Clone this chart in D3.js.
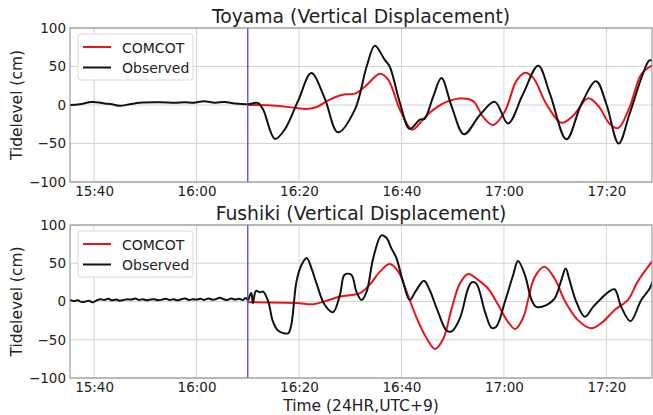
<!DOCTYPE html>
<html>
<head>
<meta charset="utf-8">
<script src="https://cdn.jsdelivr.net/npm/d3@7"></script>
<style>
  body { margin: 0; background: #fff; }
  svg { display: block; font-family: "DejaVu Sans", sans-serif; }
</style>
</head>
<body>
<svg id="chart" width="653" height="415"></svg>
<script>
// all times are minutes after 15:00 (JST)
const xDomain = [35.3, 148.9];
const arrivalTime = 70; // 16:10, blue marker
const yTicks = [-100, -50, 0, 50, 100];
const seriesNames = ['COMCOT', 'Observed'];

// --- Toyama ---
const toyamaObsTime = [35.3, 37.2, 39.6, 42.1, 43.5, 45.0, 47.0, 48.9, 52.8, 55.8, 57.7, 59.5, 61.4, 63.6, 65.5, 67.5, 70.0,
  72.0, 73.0, 75.3, 77.2, 79.8, 82.4, 85.0, 87.6, 90.9, 93.2, 94.8, 96.7, 97.7, 99.7, 101.6, 103.6, 104.5, 106.2, 107.8,
  109.8, 112.2, 115.3, 118.2, 120.8, 123.7, 126.7, 129.0, 132.2, 135.1, 138.0, 140.0, 142.4, 144.5, 147.1, 148.4, 149.2];
const toyamaObs = [0, 1, 4, 2, 1, -1, 1, 3, 3.5, 3, 3.5, 3, 5, 3, 4, 2, 1,
  2.6, -6, -44, -32, 5, 41.5, 9, -35.5, -6, 50, 77, 59, 50, 2.6, -31, -19, -18, 11, 35,
  -2, -38, -13, 4.3, -24, 14, 51, 14, -44.6, 1, 31, 1, -50, -12, 40, 58, 57];

const toyamaSimTime = [70.0, 75.6, 79.5, 81.8, 83.4, 86.0, 88.3, 91.2, 93.2, 95.8, 97.4, 99.7, 102.1, 104.2, 105.5, 107.1,
  108.8, 112.0, 114.0, 116.0, 117.9, 120.2, 122.4, 124.1, 125.7, 128.3, 131.2, 133.5, 136.4, 138.4, 140.7, 142.3, 144.5,
  146.8, 148.8, 149.2];
const toyamaSim = [0, -1, -4, -5, -2.6, 7, 13, 15.5, 26, 40.6, 33, -6, -32, -19, -10, -2,
  4, 8.6, 5, -16, -26, -8, 31, 42, 35.5, 1, -23, -14, 8.6, -1, -25, -30, -3.5,
  40, 51, 52];

// --- Fushiki ---
const fushikiObsTime = [35.3, 36, 36.8, 37.5, 38.3, 39, 39.8, 40.5, 41.3, 42, 42.8, 43.5, 44.3, 45, 45.8, 46.5, 47.3, 48,
  48.8, 49.5, 50.3, 51, 51.8, 52.5, 53.3, 54, 54.8, 55.5, 56.3, 57, 57.8, 58.5, 59.3, 60, 60.8, 61.5, 62.3, 63, 63.8,
  64.5, 65.3, 66, 66.8, 67.5, 68.3, 69, 69.6, 70.07,
  70.4, 70.7, 71.0, 71.6, 72.35, 73.0, 74.0, 74.9, 75.9, 76.8, 77.9, 78.5, 79.5, 80.5, 81.5, 82.4, 83.4, 85.0, 86.65,
  88.0, 88.9, 90.2, 91.2, 92.2, 93.2, 94.5, 96.1, 97.1, 98.0, 99.0, 100.3, 101.6, 102.9, 104.4, 105.5, 107.1, 108.8,
  109.8, 111.4, 113.0, 113.7, 114.6, 116.3, 117.6, 118.5, 120.2, 121.8, 122.75, 124.1, 125.4, 126.3, 128.3, 129.9,
  131.2, 132.05, 132.8, 134.1, 135.8, 137.4, 138.7, 140.3, 141.6, 142.9, 144.7, 146.8, 148.45, 149.0];
const fushikiObs = [2, 0.5, 1.5, -0.5, 0, 1, -1, 1.5, 3, 2, 3.5, 1.5, 2.5, 1, 2, 3, 2.5, 4,
  2, 3, 1.5, 2.5, 3, 1.5, 2.5, 3.5, 2, 3, 1.5, 3, 4, 2, 3, 2.5, 3.5, 2, 4, 2.5, 3,
  5, 3, 2, 4, 2.5, 3.5, 2, 4.5, 2,
  8, 11, -2, 14, 12, 13, 0, -26, -38, -41, -41.5, -30.5, 26, 48, 57, 44, 24, -4.3, -14,
  9, 35, 35, 13, 2, 13, 57, 86.5, 83, 70, 57, 26, 2, 15, 27, 15, -13, -38,
  -39, -22, 17, 25, 23.6, -13.5, -34.5, -33, 0, 34.6, 53, 34.6, 2, -7, -4.7, 4,
  28, 43, 28, 0, -20, -7, 2, 12, 16, -7, -25.7, 2, 17, 26];

const fushikiSimTime = [70.07, 79.5, 82.8, 85.4, 88.0, 91.9, 93.8, 95.8, 97.7, 99.4, 101.0, 103.0, 104.9, 106.55, 108.2,
  109.8, 111.4, 113.0, 115.0, 116.9, 118.9, 120.8, 122.2, 123.7, 126.0, 127.9, 129.9, 131.8, 134.4, 137.0, 139.3,
  141.6, 144.2, 146.1, 149.0];
const fushikiSim = [-1, -2, -3.5, 1, 6.5, 11, 22, 39, 49, 39, 13, -22, -48, -62, -48,
  -9, 23.6, 36, 28, 17, -4.7, -26.6, -36, -22, 32, 45.5, 30, 2, -24, -35, -26.6,
  -11, 2, 26, 53];

const baseDate = new Date(2024, 0, 1, 15, 0, 0);
const toDate = m => new Date(baseDate.getTime() + m * 60000);
const zip = (ts, vs) => ts.map((t, i) => ({ t: toDate(t), v: vs[i] }));

const svg = d3.select('#chart');
const left = 70, right = 652;
const colors = { sim: '#e8141a', obs: '#111' };

function drawPanel(cfg) {
  const x = d3.scaleTime().domain(xDomain.map(toDate)).range([left, right]);
  const y = d3.scaleLinear().domain([-100, 100]).range([cfg.bottom, cfg.top]);
  const g = svg.append('g');
  const xTicks = x.ticks(d3.timeMinute.every(20));

  // grid
  g.append('g').selectAll('line').data(xTicks).enter().append('line')
    .attr('x1', d => x(d)).attr('x2', d => x(d))
    .attr('y1', cfg.top).attr('y2', cfg.bottom)
    .attr('stroke', '#d4d4d4').attr('stroke-width', 1);
  g.append('g').selectAll('line').data(yTicks).enter().append('line')
    .attr('x1', left).attr('x2', right)
    .attr('y1', d => y(d)).attr('y2', d => y(d))
    .attr('stroke', '#d4d4d4').attr('stroke-width', 1);

  // axes
  const xAxis = g.append('g')
    .attr('transform', `translate(0,${cfg.bottom})`)
    .call(d3.axisBottom(x).tickValues(xTicks).tickFormat(d3.timeFormat('%H:%M'))
      .tickSize(0).tickPadding(4.5));
  const yAxis = g.append('g')
    .attr('transform', `translate(${left},0)`)
    .call(d3.axisLeft(y).tickValues(yTicks).tickFormat(d => d < 0 ? '\u2212' + Math.abs(d) : d)
      .tickSize(0).tickPadding(4));
  [xAxis, yAxis].forEach(a => {
    a.select('.domain').remove();
    a.selectAll('text').attr('font-size', '13.5px').attr('fill', '#222')
      .attr('font-family', '"DejaVu Sans", sans-serif');
  });

  // clip
  svg.append('clipPath').attr('id', cfg.clipId).append('rect')
    .attr('x', left).attr('y', cfg.top).attr('width', right - left).attr('height', cfg.bottom - cfg.top);

  const line = d3.line().x(d => x(d.t)).y(d => y(d.v)).curve(d3.curveCatmullRom.alpha(0.5));
  const lines = g.append('g').attr('clip-path', `url(#${cfg.clipId})`);
  lines.append('path').datum(cfg.sim).attr('d', line)
    .attr('fill', 'none').attr('stroke', colors.sim).attr('stroke-width', 2);
  lines.append('path').datum(cfg.obs).attr('d', line)
    .attr('fill', 'none').attr('stroke', colors.obs).attr('stroke-width', 2).attr('stroke-linejoin', 'round');

  // arrival marker
  g.append('line')
    .attr('x1', x(toDate(arrivalTime))).attr('x2', x(toDate(arrivalTime)))
    .attr('y1', cfg.top).attr('y2', cfg.bottom)
    .attr('stroke', '#3a3ad8').attr('stroke-width', 1.2);

  // frame
  g.append('rect')
    .attr('x', left).attr('y', cfg.top).attr('width', right - left).attr('height', cfg.bottom - cfg.top)
    .attr('fill', 'none').attr('stroke', '#888').attr('stroke-width', 1);

  // title
  g.append('text')
    .attr('x', (left + right) / 2).attr('y', cfg.top - 5)
    .attr('text-anchor', 'middle').attr('font-size', '18.8px').attr('fill', '#222')
    .text(cfg.title);

  // y label
  g.append('text')
    .attr('transform', `translate(22,${(cfg.top + cfg.bottom) / 2}) rotate(-90)`)
    .attr('text-anchor', 'middle').attr('font-size', '15.5px').attr('fill', '#222')
    .text('Tidelevel (cm)');

  // legend
  const lg = g.append('g').attr('transform', `translate(78,${cfg.top + 6})`);
  lg.append('rect').attr('width', 115).attr('height', 46).attr('rx', 3)
    .attr('fill', 'white').attr('fill-opacity', 0.9).attr('stroke', '#d8d8d8');
  [colors.sim, colors.obs].forEach((c, i) => {
    const yy = 13 + i * 20.5;
    lg.append('line').attr('x1', 5).attr('x2', 33).attr('y1', yy).attr('y2', yy)
      .attr('stroke', c).attr('stroke-width', 2);
    lg.append('text').attr('x', 44).attr('y', yy + 5.5)
      .attr('font-size', '14px').attr('fill', '#222').text(seriesNames[i]);
  });
}

drawPanel({
  title: 'Toyama (Vertical Displacement)', top: 28, bottom: 182, clipId: 'clipTop',
  obs: zip(toyamaObsTime, toyamaObs), sim: zip(toyamaSimTime, toyamaSim)
});
drawPanel({
  title: 'Fushiki (Vertical Displacement)', top: 225, bottom: 378, clipId: 'clipBottom',
  obs: zip(fushikiObsTime, fushikiObs), sim: zip(fushikiSimTime, fushikiSim)
});

svg.append('text')
  .attr('x', (left + right) / 2).attr('y', 411)
  .attr('text-anchor', 'middle').attr('font-size', '15.5px').attr('fill', '#222')
  .text('Time (24HR,UTC+9)');
</script>
</body>
</html>
